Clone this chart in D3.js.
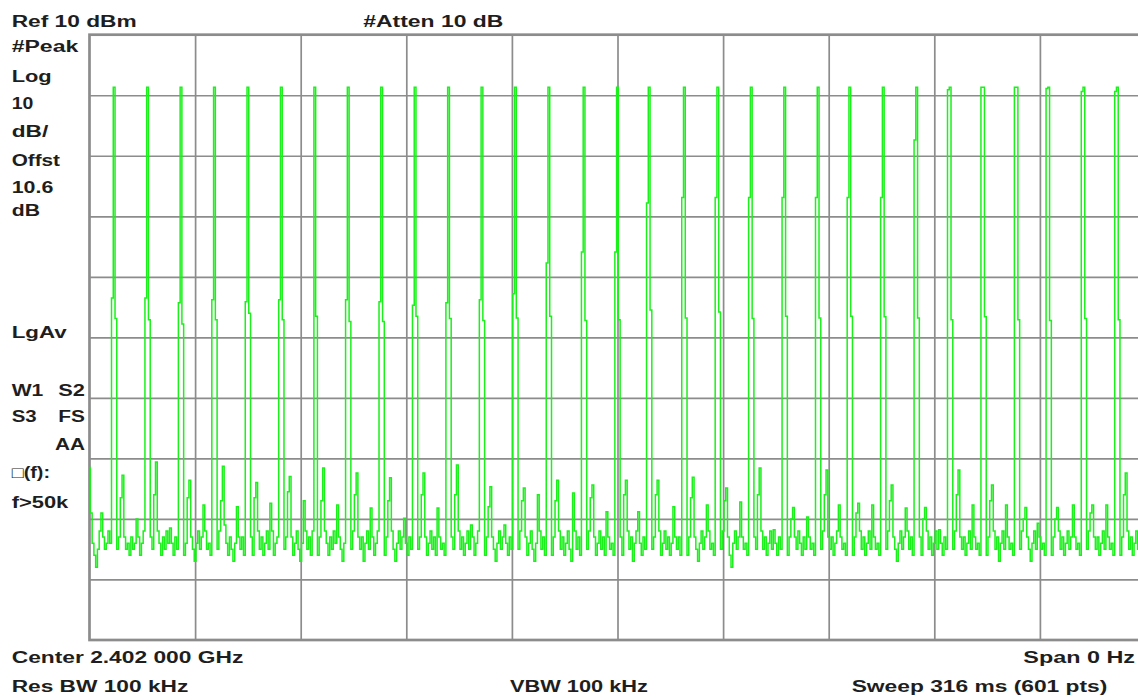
<!DOCTYPE html>
<html>
<head>
<meta charset="utf-8">
<script src="https://cdn.jsdelivr.net/npm/d3@7"></script>
<style>
  html, body { margin: 0; padding: 0; background: #ffffff; }
  svg { display: block; }
</style>
</head>
<body>
<svg id="chart" width="1138" height="700"></svg>
<script>
// ---------------- DATA ----------------
// Ref level 10 dBm, 10 dB/div, 10 divisions; sweep 601 points
const refLevelDbm = 10;
const dbPerDiv = 10;
const sweepPoints = 601;

// noise floor / background trace, dBm, one value per sweep point
const noiseDbm = [
  -61.5,-69,-74,-76,-78,-75,-72,-69,-73,-75,-74,-72,-74,-73,
  -74,-74,-75,-73,-66.5,-62.8,-73,-75,-74,-76,-73,-75,-74,-70,-73,-76,-74,-72,-74,
  -74,-74,-73,-75,-66,-60.6,-72,-74,-76,-73,-75,-72,-74,-71.5,-74,-76,-73,-75,-73,
  -74,-74,-76,-74,-66.5,-63.6,-73,-75,-77,-74,-72,-75,-73,-67.7,-72,-75,-74,-76,-73,
  -74,-74,-75,-72,-67,-61.3,-71,-74,-76,-73,-75,-77,-74,-68,-73,-75,-73,-76,-74,
  -74,-74,-73,-76,-66.5,-64,-72,-75,-73,-76,-74,-72,-75,-67.4,-72,-76,-74,-73,-75,
  -74,-74,-75,-73,-65.5,-63,-73,-76,-74,-72,-75,-77,-74,-67,-72,-75,-73,-76,-72,
  -74,-74,-76,-73,-67,-61.6,-72,-74,-76,-73,-75,-72,-74,-67.7,-73,-75,-77,-74,-73,
  -74,-74,-75,-72,-66,-62.4,-73,-75,-73,-77,-74,-72,-75,-68.2,-73,-76,-74,-72,-74,
  -74,-74,-76,-73,-67,-63.2,-72,-75,-77,-74,-72,-75,-73,-69.9,-74,-76,-73,-75,-73,
  -74,-74,-75,-73,-66,-62.4,-73,-76,-74,-72,-75,-73,-76,-68.2,-73,-75,-74,-76,-73,
  -74,-74,-73,-75,-66,-61.1,-72,-75,-73,-76,-74,-72,-75,-71,-73,-76,-74,-72,-74,
  -74,-74,-76,-73,-68,-64.7,-73,-75,-77,-74,-72,-75,-73,-71,-74,-76,-73,-75,-72,
  -74,-74,-75,-72,-67,-64.9,-73,-76,-74,-72,-75,-77,-74,-66,-72,-75,-73,-76,-73,
  -74,-74,-76,-73,-67,-63.6,-72,-75,-73,-76,-74,-72,-75,-77,-65.7,-72,-75,-73,-76,-73,
  -74,-74,-75,-72,-66.5,-64.4,-73,-76,-74,-72,-75,-73,-76,-68.8,-73,-75,-74,-76,-73,
  -74,-74,-73,-76,-66,-63.6,-72,-75,-73,-77,-74,-72,-68.8,-74,-76,-73,-75,-73,
  -74,-74,-75,-73,-66,-63.6,-72,-76,-74,-72,-75,-73,-76,-74,-68,-73,-75,-73,-76,-73,
  -74,-74,-76,-73,-66.5,-63.1,-73,-75,-77,-74,-72,-75,-73,-67.7,-72,-75,-74,-76,-73,
  -74,-74,-75,-72,-67,-64.9,-73,-76,-78,-74,-72,-75,-73,-67.2,-73,-75,-74,-76,-73,
  -74,-74,-73,-75,-66,-61.6,-72,-75,-73,-76,-74,-72,-75,-71.8,-74,-76,-73,-75,-73,
  -74,-74,-76,-73,-70,-68.1,-73,-75,-72,-74,-76,-73,-75,-69.7,-73,-75,-74,-76,-73,
  -74,-74,-75,-72,-66,-61.9,-73,-75,-73,-76,-74,-72,-67.7,-73,-75,-74,-76,-73,
  -74,-74,-76,-73,-69,-67.4,-72,-75,-73,-76,-74,-72,-75,-67.7,-73,-75,-74,-76,-73,
  -74,-74,-75,-72,-67,-64.4,-73,-75,-77,-74,-72,-75,-73,-68.2,-72,-75,-73,-76,-73,
  -74,-74,-73,-76,-70,-68.1,-72,-75,-73,-76,-74,-72,-75,-71.8,-74,-76,-73,-75,-73,
  -74,-74,-75,-72,-66,-61.9,-73,-75,-73,-76,-74,-72,-75,-67.7,-73,-75,-74,-76,-73,
  -74,-74,-76,-73,-67,-64.4,-72,-75,-73,-77,-74,-72,-75,-67.7,-73,-75,-74,-76,-73,
  -74,-74,-75,-72,-70,-68.1,-73,-75,-77,-74,-72,-75,-70.7,-73,-75,-74,-76,-73,
  -74,-74,-76,-73,-70,-68.1,-72,-75,-73,-76,-74,-72,-75,-73,-67.7,-73,-75,-74,-76,-73,
  -74,-74,-75,-72,-69,-67.7,-73,-75,-73,-76,-74,-72,-75,-67.7,-73,-75,-74,-76,-73,
  -74,-74,-76,-73,-66,-62.4,-72,-75,-73,-76,-74,-72,-75,-73,-76,-74,-73
];

// burst spikes: sweep point index, peak level, level of the point before, level of the point after (dBm)
const spikeIndex = [14,33,52,71,90,109,128,147,166,185,204,223,242,261,281,300,318,338,357,376,395,414,432,451,470,489,508,527,545,565,584];
const spikePeakDbm = [1.3,1.3,1.3,1.3,1.3,1.3,1.3,1.3,1.3,1.3,1.3,1.3,1.3,1.3,1.3,1.3,1.3,1.3,1.3,1.3,1.3,1.3,1.3,1.3,1.3,1.3,1.3,1.3,1.3,1.3,1.3];
const spikeLeadDbm = [-33.5,-33.5,-34.3,-33.8,-34.1,-33.8,null,-33.8,-34.1,-34.7,-34.3,-33.8,-32.8,-27.7,-25.9,-25.9,-17.8,-16.9,-16.9,-16.9,-16.9,-16.9,-16.9,-16.9,-7.4,0.9,1.3,1.3,1.1,0.6,0.6];
const spikeTrailDbm = [-36.9,-37.1,-37.8,-37.1,-36.0,-37.1,-36.5,-37.4,-37.4,-36.5,-36.9,-37.2,-36.8,-36.5,-37.2,-37.1,-35.5,-36.8,-35.8,-36.9,-36.5,-36.8,-36.5,-36.6,-36.8,-37.1,-36.6,-37.1,-37.2,-36.9,-37.1];

// annotation texts
const annotationTexts = [
  "Ref 10 dBm", "#Atten 10 dB",
  "#Peak", "Log", "10", "dB/", "Offst", "10.6", "dB",
  "LgAv", "W1", "S2", "S3", "FS", "AA", "\u25A1(f):", "f>50k",
  "Center 2.402 000 GHz", "Span 0 Hz",
  "Res BW 100 kHz", "VBW 100 kHz", "Sweep 316 ms (601 pts)"
];

// ---------------- LAYOUT (positions / styles) ----------------
const plot = { left: 89.5, top: 34.7, bottom: 640, divW: 105.6 };
plot.right = plot.left + plot.divW * 10;
// [x, baseline, width] for each annotation text, same order as annotationTexts
const annotationLayout = [
  [11.7, 26.7, 125], [363.3, 26.7, 140],
  [11.7, 52.3, 66.6], [11.7, 81.7, 40], [11.7, 109.3, 21.6], [11.7, 137.3, 36.6],
  [11.7, 166, 48.3], [11.7, 192.7, 41.6], [11.7, 216, 28.3],
  [11.7, 338.3, 55], [11.7, 395.7, 31.6], [58.3, 395.7, 26.7], [11.7, 421.7, 25],
  [58.3, 421.7, 26.7], [55, 450, 30], [11.7, 478, 38.3], [11.7, 508.3, 56.6],
  [11.7, 662.7, 231.6], [1023.3, 663.3, 111.7],
  [11.7, 691.7, 176.6], [510, 691.7, 138], [851.7, 692, 255.6]
];

const GRID = "#8c8c8c";
const TRACE = "#1af01a";

// ---------------- DRAW ----------------
const svg = d3.select("#chart");
svg.append("rect").attr("width", 1138).attr("height", 700).attr("fill", "#fff");

const x = d3.scaleLinear().domain([0, sweepPoints - 1]).range([plot.left, plot.right]);
const y = d3.scaleLinear()
  .domain([refLevelDbm - dbPerDiv * 10, refLevelDbm])
  .range([plot.bottom, plot.top]);

// grid via axes
const xDiv = d3.scaleLinear().domain([0, 10]).range([plot.left, plot.right]);
const gx = svg.append("g").attr("transform", `translate(0,${plot.bottom})`)
  .call(d3.axisBottom(xDiv).tickValues(d3.range(1, 10)).tickSize(-(plot.bottom - plot.top)).tickFormat(""));
const gy = svg.append("g").attr("transform", `translate(${plot.left},0)`)
  .call(d3.axisLeft(y).tickValues(d3.range(refLevelDbm - 90, refLevelDbm, dbPerDiv)).tickSize(-(plot.right - plot.left)).tickFormat(""));
[gx, gy].forEach(g => {
  g.select(".domain").remove();
  g.selectAll(".tick line").attr("stroke", GRID).attr("stroke-width", 1.7);
});

// frame
svg.append("rect")
  .attr("x", plot.left).attr("y", plot.top)
  .attr("width", plot.right - plot.left).attr("height", plot.bottom - plot.top)
  .attr("fill", "none").attr("stroke", GRID).attr("stroke-width", 2.7);

// trace
const trace = noiseDbm.slice();
spikeIndex.forEach((p, k) => {
  trace[p] = spikePeakDbm[k];
  if (spikeLeadDbm[k] !== null) trace[p - 1] = spikeLeadDbm[k];
  trace[p + 1] = spikeTrailDbm[k];
});

svg.append("clipPath").attr("id", "clip").append("rect")
  .attr("x", plot.left).attr("y", plot.top)
  .attr("width", plot.right - plot.left).attr("height", plot.bottom - plot.top);

const line = d3.line().x((d, i) => x(i)).y(d => y(d)).curve(d3.curveStep);
svg.append("path")
  .datum(trace)
  .attr("clip-path", "url(#clip)")
  .attr("d", line)
  .attr("fill", "none")
  .attr("stroke", TRACE)
  .attr("stroke-width", 1.5)
  .attr("stroke-linejoin", "miter");

// annotations
svg.append("g").selectAll("text")
  .data(annotationTexts)
  .join("text")
  .attr("x", (d, i) => annotationLayout[i][0])
  .attr("y", (d, i) => annotationLayout[i][1])
  .attr("textLength", (d, i) => annotationLayout[i][2])
  .attr("lengthAdjust", "spacingAndGlyphs")
  .attr("font-family", "'Liberation Sans', Arial, Helvetica, sans-serif")
  .attr("font-weight", "bold")
  .attr("font-size", 16)
  .attr("fill", "#1e1e1e")
  .text(d => d);
</script>
</body>
</html>
